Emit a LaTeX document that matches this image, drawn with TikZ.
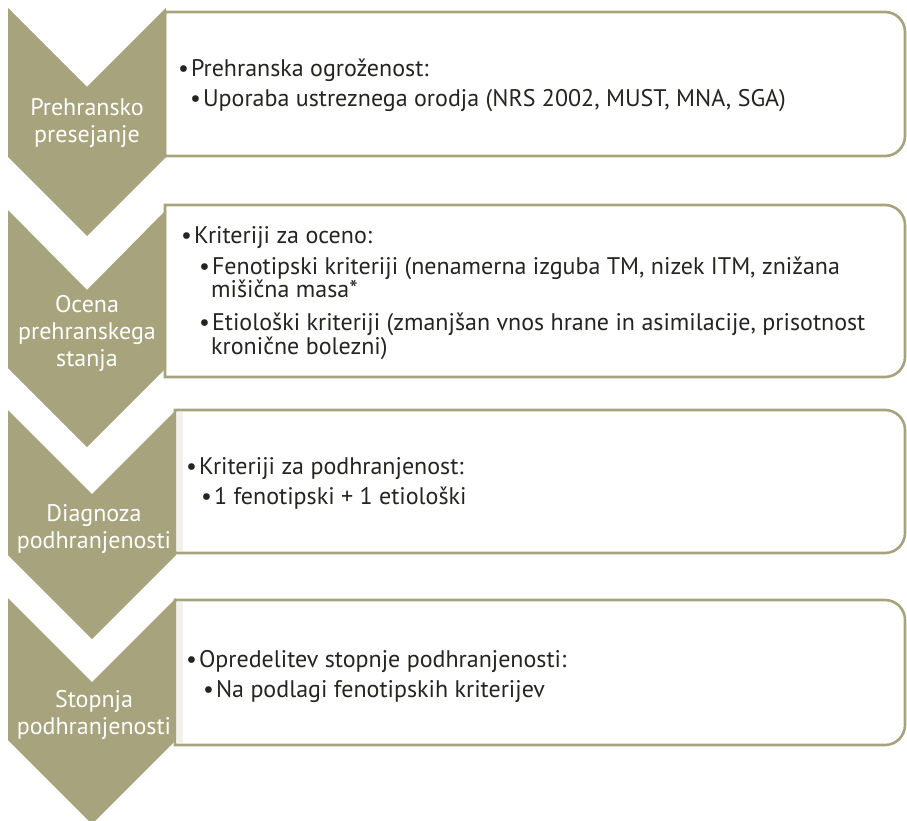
\documentclass[tikz,border=0pt]{standalone}
\usepackage{fontspec}
\setmainfont{PT Sans}
\usepackage{tikz}
\definecolor{olive}{RGB}{167,163,124}
\definecolor{ink}{RGB}{38,36,32}
\definecolor{haze}{RGB}{243,241,236}

\begin{document}
\begin{tikzpicture}[
  x = 1pt, y = -1pt,
  chev/.style = {fill=olive},
  frame/.style = {draw=olive,line width=2.6pt,fill=white},
  steptext/.style = {text=white,align=center,inner sep=0pt,font=\fontsize{24}{27}\selectfont},
  item/.style = {text=ink,anchor=base west,inner sep=0pt,font=\fontsize{24}{24}\selectfont}
  ]
  \useasboundingbox (0,0) rectangle (907,821);
  \draw[frame] (165,12) -- (885,12) arc[start angle=-90,end angle=0,radius=20] -- (905,136) arc[start angle=0,end angle=90,radius=20] -- (165,156) -- cycle;
  \draw[frame] (165,205) -- (885,205) arc[start angle=-90,end angle=0,radius=20] -- (905,357) arc[start angle=0,end angle=90,radius=20] -- (165,377) -- cycle;
  \draw[frame] (175,410) -- (885,410) arc[start angle=-90,end angle=0,radius=20] -- (905,533) arc[start angle=0,end angle=90,radius=20] -- (175,553) -- cycle;
  \draw[frame] (175,600) -- (885,600) arc[start angle=-90,end angle=0,radius=20] -- (905,725) arc[start angle=0,end angle=90,radius=20] -- (175,745) -- cycle;
  \fill[haze] (176,412) rectangle (183,551);
  \fill[haze] (176,602) rectangle (183,743);
  \fill[chev] (8,8) -- (87,87) -- (166,8) -- (166,157) -- (87,236) -- (8,157) -- cycle;
  \fill[chev] (8,210) -- (87,290) -- (166,210) -- (166,368) -- (87,447) -- (8,368) -- cycle;
  \fill[chev] (8,410) -- (92,494) -- (176,410) -- (176,555) -- (92,639) -- (8,555) -- cycle;
  \fill[chev] (8,598) -- (92,682) -- (176,598) -- (176,740) -- (92,824) -- (8,740) -- cycle;
  \node[steptext] (s1) at (87,123) {Prehransko\\presejanje};
  \node[steptext] (s2) at (87,333) {Ocena\\prehranskega\\stanja};
  \node[steptext] (s3) at (94,529) {Diagnoza\\podhranjenosti};
  \node[steptext] (s4) at (94,715) {Stopnja\\podhranjenosti};
  \node[item] (p1) at (178,77) {•\kern2pt Prehranska ogroženost:};
  \node[item] (p1a) at (190,107) {•\kern2pt Uporaba ustreznega orodja (NRS 2002, MUST, MNA, SGA)};
  \node[item] (p2) at (181,243) {•\kern2pt Kriteriji za oceno:};
  \node[item] (p2a) at (199,274) {•\kern2pt Fenotipski kriteriji (nenamerna izguba TM, nizek ITM, znižana};
  \node[item] (p2a2) at (211,297) {mišična masa*};
  \node[item] (p2b) at (199,330) {•\kern2pt Etiološki kriteriji (zmanjšan vnos hrane in asimilacije, prisotnost};
  \node[item] (p2b2) at (211,354) {kronične bolezni)};
  \node[item] (p3) at (186,474) {•\kern2pt Kriteriji za podhranjenost:};
  \node[item] (p3a) at (201,504) {•\kern2pt 1 fenotipski + 1 etiološki};
  \node[item] (p4) at (186,667) {•\kern2pt Opredelitev stopnje podhranjenosti:};
  \node[item] (p4a) at (203,697) {•\kern2pt Na podlagi fenotipskih kriterijev};
\end{tikzpicture}
\end{document}
